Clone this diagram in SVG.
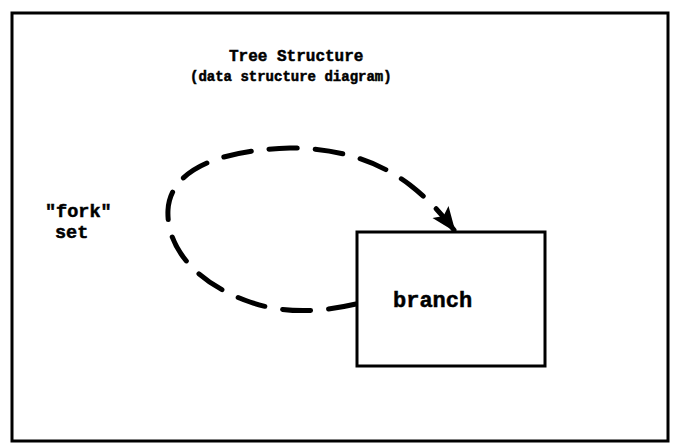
<svg xmlns="http://www.w3.org/2000/svg" width="678" height="445" viewBox="0 0 678 445">
  <style>
    .frame { fill: none; stroke: #000; stroke-width: 3; }
    .box { fill: #fff; stroke: #000; stroke-width: 3; }
    .lbl { font-family: "Liberation Mono", "DejaVu Sans Mono", monospace; font-weight: bold; fill: #000; stroke: #000; stroke-width: 0.5; }
    .link { fill: none; stroke: #000; stroke-width: 5; stroke-linecap: round; stroke-dasharray: 28 18; }
  </style>
  <defs>
    <marker id="head" viewBox="0 0 10 10" refX="9" refY="5" markerWidth="5" markerHeight="5" markerUnits="strokeWidth" orient="auto">
      <path d="M0,1 L10,5 L0,9 L2,5 Z" fill="#000"/>
    </marker>
  </defs>
  <rect width="678" height="445" fill="#fff"/>

  <!-- outer border -->
  <rect class="frame" x="12" y="13" width="656" height="428"/>

  <g id="title">
    <text class="lbl" x="229" y="61" font-size="16">Tree Structure</text>
    <text class="lbl" x="190" y="81" font-size="14">(data structure diagram)</text>
  </g>

  <g id="fork-label">
    <text class="lbl" x="45" y="217" font-size="18.5">"fork"</text>
    <text class="lbl" x="55" y="238" font-size="18.5">set</text>
  </g>

  <!-- recursive set: owner and member are the same record type -->
  <g id="connectors">
    <path class="link" marker-end="url(#head)" d="M356,304 C330,310 290,316 250,302 C200,285 166,250 168,210 C170,172 215,150 290,148 C340,148 380,162 410,185 C428,199 442,214 454,230"/>
  </g>

  <g id="branch">
    <rect class="box" x="357" y="232" width="188" height="134"/>
    <text class="lbl" x="393" y="307" font-size="22">branch</text>
  </g>
</svg>
